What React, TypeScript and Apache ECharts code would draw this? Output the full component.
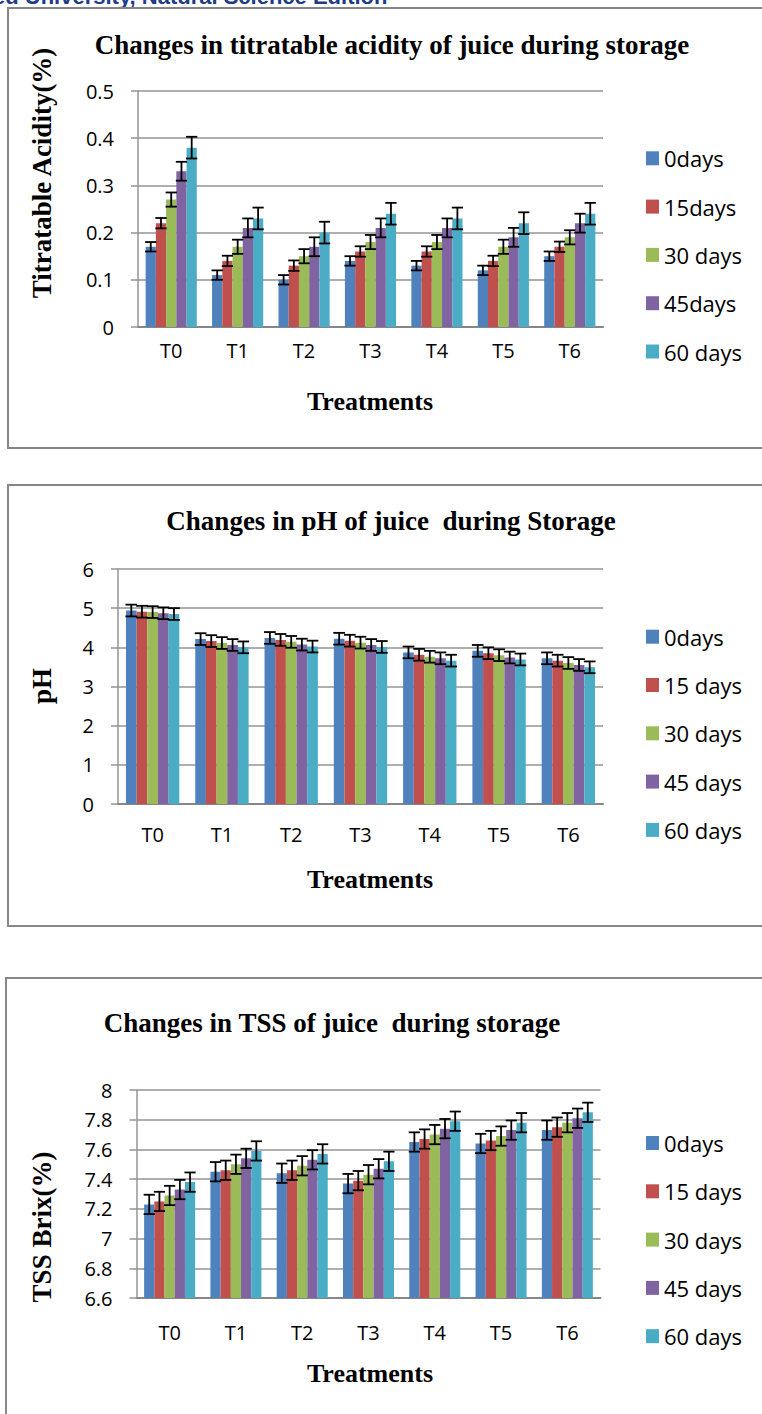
import React, { useEffect, useRef } from "react";
import * as echarts from "echarts";

const categories = ["T0", "T1", "T2", "T3", "T4", "T5", "T6"];
const acidityNames = ["0days", "15days", "30 days", "45days", "60 days"];
const otherNames = ["0days", "15 days", "30 days", "45 days", "60 days"];
const colors = ["#4F81BD", "#C0504D", "#9BBB59", "#8064A2", "#4BACC6"];

// Titratable acidity (%)
const acid0 = [0.17, 0.11, 0.1, 0.14, 0.13, 0.12, 0.15];
const acid15 = [0.22, 0.14, 0.13, 0.16, 0.16, 0.14, 0.17];
const acid30 = [0.27, 0.17, 0.15, 0.18, 0.18, 0.17, 0.19];
const acid45 = [0.33, 0.21, 0.17, 0.21, 0.21, 0.19, 0.22];
const acid60 = [0.38, 0.23, 0.2, 0.24, 0.23, 0.22, 0.24];
const acidErr = [0.01, 0.011, 0.015, 0.02, 0.023];

// pH
const ph0 = [4.94, 4.21, 4.24, 4.22, 3.87, 3.91, 3.72];
const ph15 = [4.91, 4.16, 4.19, 4.17, 3.81, 3.85, 3.66];
const ph30 = [4.9, 4.11, 4.14, 4.12, 3.76, 3.8, 3.6];
const ph45 = [4.87, 4.06, 4.07, 4.06, 3.72, 3.74, 3.55];
const ph60 = [4.85, 4.0, 4.02, 4.01, 3.66, 3.69, 3.49];
const phErr = [0.15, 0.15, 0.15, 0.15, 0.15];

// TSS Brix (%)
const tss0 = [7.23, 7.45, 7.44, 7.37, 7.65, 7.64, 7.73];
const tss15 = [7.25, 7.46, 7.46, 7.39, 7.67, 7.66, 7.75];
const tss30 = [7.29, 7.5, 7.49, 7.43, 7.7, 7.69, 7.78];
const tss45 = [7.33, 7.54, 7.53, 7.47, 7.74, 7.73, 7.81];
const tss60 = [7.38, 7.59, 7.57, 7.52, 7.79, 7.78, 7.85];
const tssErr = [0.065, 0.065, 0.065, 0.065, 0.065];

const CAT_GAP = 0.23;
const SANS = '"Open Sans", sans-serif';
const SERIF = '"Liberation Serif", "Times New Roman", serif';
const GRID_COLOR = "#959595";
const LEGEND_FS = 22;

function barSeries(gi: number, names: string[], sets: number[][]) {
  return sets.map((vals, si) => ({
    type: "bar",
    name: names[si],
    xAxisIndex: gi,
    yAxisIndex: gi,
    data: vals,
    barGap: "0%",
    barCategoryGap: CAT_GAP * 100 + "%",
    clip: true,
    itemStyle: { color: colors[si] },
    z: 2,
  }));
}

function errSeries(gi: number, sets: number[][], errs: number[]) {
  return sets.map((vals, si) => ({
    type: "custom",
    xAxisIndex: gi,
    yAxisIndex: gi,
    z: 5,
    data: vals.map((v, i) => [i, v, errs[si]]),
    encode: { x: 0, y: 1 },
    renderItem: (params: any, api: any) => {
      const c = api.value(0);
      const v = api.value(1);
      const e = api.value(2);
      const band = api.size([1, 0])[0];
      const groupW = band * (1 - CAT_GAP);
      const bw = groupW / 5;
      const center = api.coord([c, v])[0];
      const x = center - groupW / 2 + bw * (si + 0.5);
      const yHi = api.coord([c, v + e])[1];
      const yLo = api.coord([c, v - e])[1];
      const hw = bw / 2 + 0.5;
      const st = { stroke: "#000", lineWidth: 1.8 };
      return {
        type: "group",
        children: [
          { type: "line", shape: { x1: x, y1: yHi, x2: x, y2: yLo }, style: st },
          { type: "line", shape: { x1: x - hw, y1: yHi, x2: x + hw, y2: yHi }, style: st },
          { type: "line", shape: { x1: x - hw, y1: yLo, x2: x + hw, y2: yLo }, style: st },
        ],
      };
    },
  }));
}

function xAxis(gi: number, margin: number) {
  return {
    type: "category",
    gridIndex: gi,
    data: categories,
    axisLine: { show: true, lineStyle: { color: "#868686", width: 2 } },
    axisTick: { show: false },
    axisLabel: { color: "#000", fontFamily: SANS, fontSize: 20, margin },
  };
}

function yAxis(gi: number, min: number, max: number, interval: number) {
  return {
    type: "value",
    gridIndex: gi,
    min,
    max,
    interval,
    axisLine: { show: true, lineStyle: { color: GRID_COLOR, width: 1.5 } },
    axisTick: { show: true, length: 7, lineStyle: { color: GRID_COLOR, width: 1.5 } },
    splitLine: { show: true, lineStyle: { color: GRID_COLOR, width: 1.5 } },
    axisLabel: { color: "#000", fontFamily: SANS, fontSize: 20, margin: 24 },
  };
}

function legend(names: string[], firstCenter: number) {
  return {
    orient: "vertical",
    left: 646,
    top: firstCenter - LEGEND_FS / 2,
    padding: 0,
    itemWidth: 13,
    itemHeight: 14,
    itemGap: 48.3 - LEGEND_FS,
    icon: "rect",
    selectedMode: false,
    data: names,
    textStyle: { color: "#000", fontFamily: SANS, fontSize: LEGEND_FS, lineHeight: LEGEND_FS },
  };
}

function serifText(text: string, x: number, y: number, size: number, rot = 0) {
  return {
    type: "text",
    x,
    y,
    rotation: rot,
    style: {
      text,
      fill: "#000",
      fontFamily: SERIF,
      fontWeight: "bold",
      fontSize: size,
      align: "center",
      verticalAlign: "middle",
    },
  };
}

function box(x: number, y: number, w: number, h: number) {
  return {
    type: "rect",
    shape: { x, y, width: w, height: h },
    style: { fill: "none", stroke: "#868686", lineWidth: 2 },
    z: 0,
  };
}

export default function App() {
  const ref = useRef<HTMLDivElement>(null);
  useEffect(() => {
    if (!ref.current) return;
    const chart = echarts.init(ref.current, undefined, { renderer: "svg" });
    const acidSets = [acid0, acid15, acid30, acid45, acid60];
    const phSets = [ph0, ph15, ph30, ph45, ph60];
    const tssSets = [tss0, tss15, tss30, tss45, tss60];
    chart.setOption({
      animation: false,
      backgroundColor: "#fff",
      grid: [
        { left: 138, top: 91, width: 465, height: 236 },
        { left: 118, top: 569, width: 485, height: 235 },
        { left: 136.5, top: 1090, width: 464, height: 208 },
      ],
      xAxis: [xAxis(0, 13), xAxis(1, 20), xAxis(2, 24)],
      yAxis: [yAxis(0, 0, 0.5, 0.1), yAxis(1, 0, 6, 1), yAxis(2, 6.6, 8, 0.2)],
      legend: [legend(acidityNames, 158.3), legend(otherNames, 636.7), legend(otherNames, 1143)],
      graphic: [
        {
          type: "text",
          x: -7,
          y: 7,
          style: {
            text: "ed University, Natural Science Edition",
            fill: "#1F3C88",
            fontFamily: '"Liberation Sans", Arial, sans-serif',
            fontWeight: "bold",
            fontSize: 22,
            align: "left",
            verticalAlign: "bottom",
          },
        },
        box(8, 8, 800, 440),
        box(8, 485, 800, 441),
        box(6, 978, 800, 500),
        serifText("Changes in titratable acidity of juice during storage", 392, 45, 27),
        serifText("Changes in pH of juice  during Storage", 391, 521, 27),
        serifText("Changes in TSS of juice  during storage", 332, 1023, 27),
        serifText("Titratable Acidity(%)", 42, 173, 27, Math.PI / 2),
        serifText("pH", 42, 686, 27, Math.PI / 2),
        serifText("TSS Brix(%)", 42, 1227, 27, Math.PI / 2),
        serifText("Treatments", 370, 401, 26),
        serifText("Treatments", 370, 879, 26),
        serifText("Treatments", 370, 1373, 26),
      ],
      series: [
        ...barSeries(0, acidityNames, acidSets),
        ...barSeries(1, otherNames, phSets),
        ...barSeries(2, otherNames, tssSets),
        ...errSeries(0, acidSets, acidErr),
        ...errSeries(1, phSets, phErr),
        ...errSeries(2, tssSets, tssErr),
      ],
    });
    return () => chart.dispose();
  }, []);
  return (
    <div
      ref={ref}
      style={{ position: "absolute", left: 0, top: 0, width: 762, height: 1414, background: "#fff" }}
    />
  );
}
